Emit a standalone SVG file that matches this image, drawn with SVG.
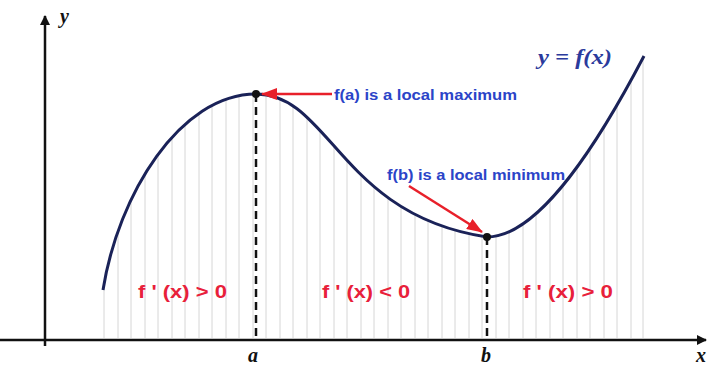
<svg xmlns="http://www.w3.org/2000/svg" width="709" height="368" viewBox="0 0 709 368">
<style>
.axis{stroke:#111;stroke-width:2.5;fill:none}
.grid{stroke:#d6d6d6;stroke-width:1}
.curve{stroke:#1a2258;stroke-width:3;fill:none}
.dash{stroke:#111;stroke-width:2.5;stroke-dasharray:8,5}
.red{stroke:#e8202a;stroke-width:2.5;fill:none}
.lbl{font-family:"Liberation Sans",Arial,sans-serif;font-weight:bold;font-size:14px;fill:#2b44c8}
.deriv{font-family:"Liberation Sans",Arial,sans-serif;font-weight:bold;font-size:18px;fill:#e8203a}
.math{font-family:"Liberation Serif","Times New Roman",serif;font-style:italic;font-weight:bold;fill:#111}
</style>
<defs>
<marker id="ah" markerWidth="10" markerHeight="10" refX="9" refY="5" orient="auto" markerUnits="userSpaceOnUse"><path d="M0,0 L10,5 L0,10 Z" fill="#111"/></marker>
<marker id="rh" markerWidth="16" markerHeight="12" refX="15" refY="6" orient="auto" markerUnits="userSpaceOnUse"><path d="M0,0 L16,6 L0,12 Z" fill="#e8202a"/></marker>
<clipPath id="under"><path d="M103,290 C118,195 180,94 256,94 C330,94 340,215 487,237 C540,237 600,140 644,56 L644,338 L103,338 Z"/></clipPath>
</defs>
<rect width="709" height="368" fill="#fff"/>
<g id="grid" clip-path="url(#under)">
<path class="grid" d="M104,40V338M118,40V338M131,40V338M145,40V338M158,40V338M172,40V338M185,40V338M199,40V338M212,40V338M226,40V338M239,40V338M253,40V338M266,40V338M280,40V338M293,40V338M307,40V338M320,40V338M334,40V338M347,40V338M361,40V338M374,40V338M388,40V338M401,40V338M415,40V338M428,40V338M442,40V338M455,40V338M469,40V338M482,40V338M496,40V338M509,40V338M523,40V338M536,40V338M550,40V338M563,40V338M577,40V338M590,40V338M604,40V338M617,40V338M631,40V338M643,40V338"/>
</g>
<g id="axes">
<line class="axis" x1="45" y1="346" x2="45" y2="16" marker-end="url(#ah)"/>
<line class="axis" x1="0" y1="340" x2="706" y2="340" marker-end="url(#ah)"/>
<text class="math" x="60" y="23" font-size="20">y</text>
<text class="math" x="696" y="362" font-size="20">x</text>
<text class="math" x="248" y="362" font-size="20">a</text>
<text class="math" x="481" y="362" font-size="20">b</text>
</g>
<g id="curve">
<path class="curve" d="M103,290 C118,195 180,94 256,94 C330,94 340,215 487,237 C540,237 600,140 644,56"/>
<text x="538" y="64" font-family="'Liberation Serif','Times New Roman',serif" font-style="italic" font-weight="bold" font-size="20" fill="#2b3a9c" textLength="74" lengthAdjust="spacingAndGlyphs">y = f(x)</text>
</g>
<g id="max">
<line class="dash" x1="256" y1="94" x2="256" y2="340"/>
<circle cx="256" cy="94" r="4" fill="#111"/>
</g>
<g id="min">
<line class="dash" x1="487" y1="237" x2="487" y2="340"/>
<circle cx="487" cy="237" r="4" fill="#111"/>
</g>
<g id="connectors">
<line class="red" x1="332" y1="94" x2="262" y2="94" marker-end="url(#rh)"/>
<line class="red" x1="409" y1="186" x2="482" y2="232" marker-end="url(#rh)"/>
</g>
<g id="labels">
<text class="lbl" x="334" y="100" textLength="183" lengthAdjust="spacingAndGlyphs">f(a) is a local maximum</text>
<text class="lbl" x="387" y="180" textLength="178" lengthAdjust="spacingAndGlyphs">f(b) is a local minimum</text>
<text class="deriv" x="138" y="298" textLength="89" lengthAdjust="spacingAndGlyphs">f ' (x) &gt; 0</text>
<text class="deriv" x="322" y="298" textLength="88" lengthAdjust="spacingAndGlyphs">f ' (x) &lt; 0</text>
<text class="deriv" x="523" y="298" textLength="90" lengthAdjust="spacingAndGlyphs">f ' (x) &gt; 0</text>
</g>
</svg>
